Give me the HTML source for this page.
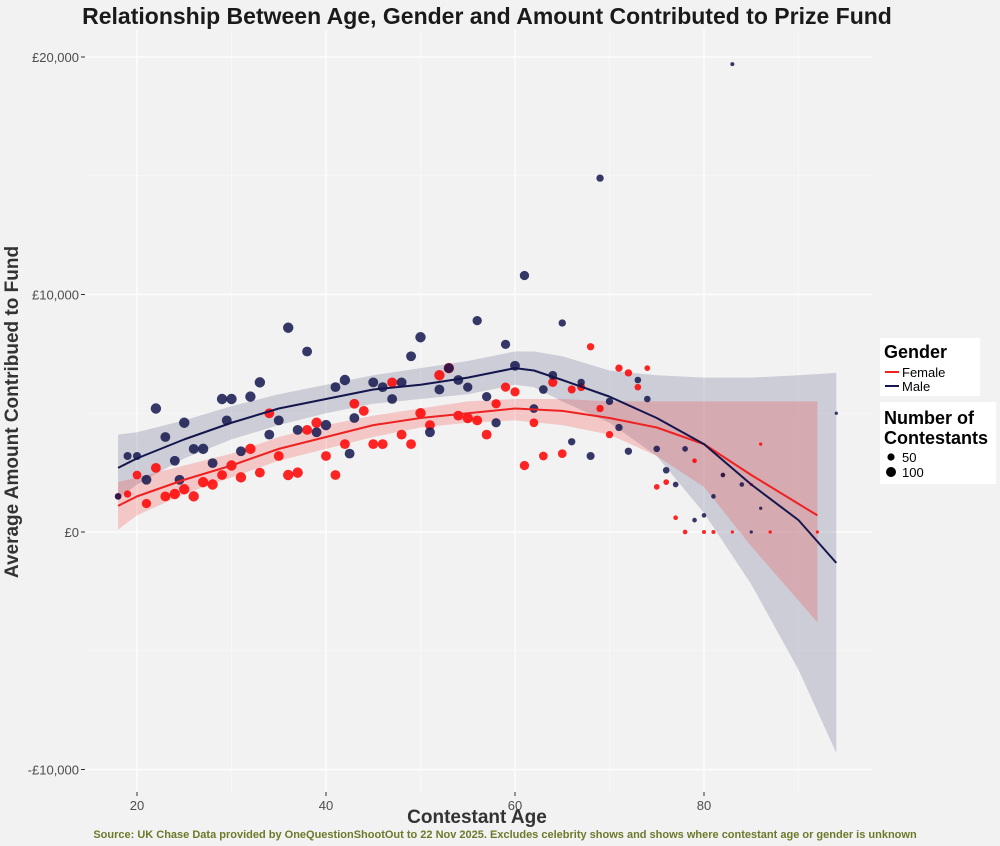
<!DOCTYPE html>
<html><head><meta charset="utf-8"><style>
body{margin:0;background:#f2f2f2;font-family:"Liberation Sans",sans-serif;}
svg{display:block}
</style></head><body>
<svg id="c" width="1000" height="846" xmlns="http://www.w3.org/2000/svg">
<rect width="1000" height="846" fill="#f2f2f2"/>
<g id="grid"></g><g id="bands"></g><g id="pts"></g><g id="lines"></g><g id="axes"></g>
<text x="487" y="24" text-anchor="middle" font-size="23" font-weight="bold" fill="#1a1a1a">Relationship Between Age, Gender and Amount Contributed to Prize Fund</text>
<text transform="translate(18,412) rotate(-90)" text-anchor="middle" font-size="19" font-weight="bold" fill="#333">Average Amount Contribued to Fund</text>
<text x="477" y="823" text-anchor="middle" font-size="19" font-weight="bold" fill="#333">Contestant Age</text>
<text x="505" y="838" text-anchor="middle" font-size="11" font-weight="bold" fill="#6b7a2a">Source: UK Chase Data provided by OneQuestionShootOut to 22 Nov 2025. Excludes celebrity shows and shows where contestant age or gender is unknown</text>
<g>
<rect x="880" y="338" width="100" height="58" fill="#fff"/>
<text x="884" y="358" font-size="18" font-weight="bold" fill="#000">Gender</text>
<line x1="885" y1="372" x2="899" y2="372" stroke="#ee2222" stroke-width="2"/>
<text x="902" y="377" font-size="13" fill="#000">Female</text>
<line x1="885" y1="386" x2="899" y2="386" stroke="#14164d" stroke-width="2"/>
<text x="902" y="391" font-size="13" fill="#000">Male</text>
</g>
<g>
<rect x="880" y="402" width="116" height="82" fill="#fff"/>
<text x="884" y="424" font-size="18" font-weight="bold" fill="#000">Number of</text>
<text x="884" y="444" font-size="18" font-weight="bold" fill="#000">Contestants</text>
<circle cx="891" cy="457" r="3.6" fill="#000"/>
<text x="902" y="462" font-size="13" fill="#000">50</text>
<circle cx="891" cy="472" r="5" fill="#000"/>
<text x="902" y="477" font-size="13" fill="#000">100</text>
</g>
</svg>
<script>
const xTicks=[20,40,60,80];
const xMinor=[30,50,70,90];
const yTicks=[-10000,0,10000,20000];
const yTickLabels=["-£10,000","£0","£10,000","£20,000"];
const yMinor=[-5000,5000,15000];
const maleAge=[18,19,20,21,22,23,24,24.5,25,26,27,28,29,29.5,30,31,32,33,34,35,36,37,38,39,40,41,42,42.5,43,45,46,47,48,49,50,51,52,53,54,55,56,57,58,59,60,61,62,63,64,65,66,67,68,69,70,71,72,73,74,75,76,77,78,79,80,81,82,83,84,85,86,94];
const maleVal=[1.5,3.2,3.2,2.2,5.2,4.0,3.0,2.2,4.6,3.5,3.5,2.9,5.6,4.7,5.6,3.4,5.7,6.3,4.1,4.7,8.6,4.3,7.6,4.2,4.5,6.1,6.4,3.3,4.8,6.3,6.1,5.6,6.3,7.4,8.2,4.2,6.0,6.9,6.4,6.1,8.9,5.7,4.6,7.9,7.0,10.8,5.2,6.0,6.6,8.8,3.8,6.3,3.2,14.9,5.5,4.4,3.4,6.4,5.6,3.5,2.6,2.0,3.5,0.5,0.7,1.5,2.4,19.7,2.0,0,1.0,5.0];
const maleN=[40,60,60,90,100,90,90,90,100,90,100,90,100,90,100,90,100,100,90,90,100,90,90,90,100,90,100,90,90,90,90,90,90,90,100,90,90,90,90,80,80,80,80,80,90,80,70,70,70,50,50,50,60,50,50,50,50,40,40,40,40,30,30,20,20,20,20,15,20,10,10,10];
const femAge=[18,19,20,21,22,23,24,25,26,27,28,29,30,31,32,33,34,35,36,37,38,39,40,41,42,43,44,45,46,47,48,49,50,51,52,53,54,55,56,57,58,59,60,61,62,63,64,65,66,67,68,69,70,71,72,73,74,75,76,77,78,79,80,81,82,83,85,86,87,92];
const femVal=[1.5,1.6,2.4,1.2,2.7,1.5,1.6,1.8,1.5,2.1,2.0,2.4,2.8,2.3,3.5,2.5,5.0,3.2,2.4,2.5,4.3,4.6,3.2,2.4,3.7,5.4,5.1,3.7,3.7,6.3,4.1,3.7,5.0,4.5,6.6,6.9,4.9,4.8,4.7,4.1,5.4,6.1,5.9,2.8,4.6,3.2,6.3,3.3,6.0,6.1,7.8,5.2,4.1,6.9,6.7,6.1,6.9,1.9,2.1,0.6,0,3.0,0,0,2.4,0,2.0,3.7,0,0];
const femN=[40,50,70,80,90,90,100,100,100,100,100,90,100,100,100,90,90,90,100,100,90,100,90,90,90,90,90,90,90,90,90,90,100,90,100,100,90,100,90,90,80,80,80,80,70,70,80,70,60,60,50,50,50,50,50,40,30,30,30,20,20,20,15,15,15,10,10,10,10,10];
const smoothAgeM=[18,20,25,30,35,40,45,50,55,60,62,65,70,75,80,85,90,94];
const maleFit=[2.7,3.1,3.9,4.6,5.2,5.6,6.0,6.2,6.5,6.9,6.8,6.4,5.7,4.8,3.7,2.0,0.5,-1.3];
const maleHi=[4.1,4.2,4.7,5.3,5.8,6.2,6.6,6.9,7.2,7.6,7.6,7.4,6.8,6.6,6.5,6.5,6.6,6.7];
const maleLo=[1.4,2.0,3.1,3.9,4.5,5.0,5.4,5.6,5.8,6.2,6.1,5.5,4.6,3.2,0.8,-2.2,-5.8,-9.3];
const smoothAgeF=[18,20,25,30,35,40,45,50,55,60,65,70,75,80,85,92];
const femFit=[1.1,1.5,2.2,2.8,3.5,4.0,4.5,4.8,5.0,5.2,5.1,4.8,4.4,3.7,2.4,0.7];
const femHi=[2.1,2.3,2.8,3.3,4.0,4.5,4.9,5.2,5.5,5.6,5.6,5.5,5.5,5.5,5.5,5.5];
const femLo=[0.1,0.7,1.6,2.3,3.0,3.5,4.0,4.4,4.6,4.7,4.5,4.1,3.2,1.9,-0.6,-3.8];

const X=a=>137+(a-20)*9.45;
const Y=v=>532-v*0.02375;
const Yk=v=>Y(v*1000);
const NS='http://www.w3.org/2000/svg';
function mk(parent,tag,attrs){const e=document.createElementNS(NS,tag);for(const k in attrs)e.setAttribute(k,attrs[k]);document.getElementById(parent).appendChild(e);return e;}
const L=85,R=872,T=30,B=792;
xMinor.forEach(t=>{const e=mk('grid','line',{x1:X(t),x2:X(t),y1:T,y2:B,stroke:'#fafafa','stroke-width':0.6});

});
yMinor.forEach(t=>{const e=mk('grid','line',{x1:L,x2:R,y1:Y(t),y2:Y(t),stroke:'#fafafa','stroke-width':0.6});

});
xTicks.forEach(t=>{const e=mk('grid','line',{x1:X(t),x2:X(t),y1:T,y2:B,stroke:'#fff','stroke-width':1.2});


const tk=mk('axes','line',{x1:X(t),x2:X(t),y1:B,y2:B+4,stroke:'#333'});


const tx=mk('axes','text',{x:X(t),y:B+18,'text-anchor':'middle','font-size':13,fill:'#4d4d4d'});tx.textContent=t;

});
yTicks.forEach((t,i)=>{const e=mk('grid','line',{x1:L,x2:R,y1:Y(t),y2:Y(t),stroke:'#fff','stroke-width':1.2});


const tk=mk('axes','line',{x1:L-4,x2:L,y1:Y(t),y2:Y(t),stroke:'#333'});


const tx=mk('axes','text',{x:L-6,y:Y(t)+5,'text-anchor':'end','font-size':13,fill:'#4d4d4d'});tx.textContent=yTickLabels[i];

});
function band(ages,hi,lo,fill,op,name){let d='M'+ages.map((a,i)=>X(a)+','+Yk(hi[i])).join('L');
for(let i=ages.length-1;i>=0;i--)d+='L'+X(ages[i])+','+Yk(lo[i]);d+='Z';
const e=mk('bands','path',{d:d,fill:fill,'fill-opacity':op});

}
band(smoothAgeM,maleHi,maleLo,'#14164d',0.17,'male-confidence-band');
band(smoothAgeF,femHi,femLo,'#ff2020',0.2,'female-confidence-band');
const r=n=>Math.max(1.2,Math.sqrt(n)*0.52);
femAge.forEach((a,i)=>{const c=mk('pts','circle',{cx:X(a),cy:Yk(femVal[i]),r:r(femN[i]),fill:'#ff0000','fill-opacity':0.85});

});
maleAge.forEach((a,i)=>{const c=mk('pts','circle',{cx:X(a),cy:Yk(maleVal[i]),r:r(maleN[i]||10),fill:'#14164d','fill-opacity':0.85});

});
function line(ages,v,col,name){const e=mk('lines','path',{d:'M'+ages.map((a,i)=>X(a)+','+Yk(v[i])).join('L'),fill:'none',stroke:col,'stroke-width':2,'stroke-linejoin':'round'});

}
line(smoothAgeF,femFit,'#ee2222','female-trend-line');
line(smoothAgeM,maleFit,'#14164d','male-trend-line');
</script>
</body></html>
